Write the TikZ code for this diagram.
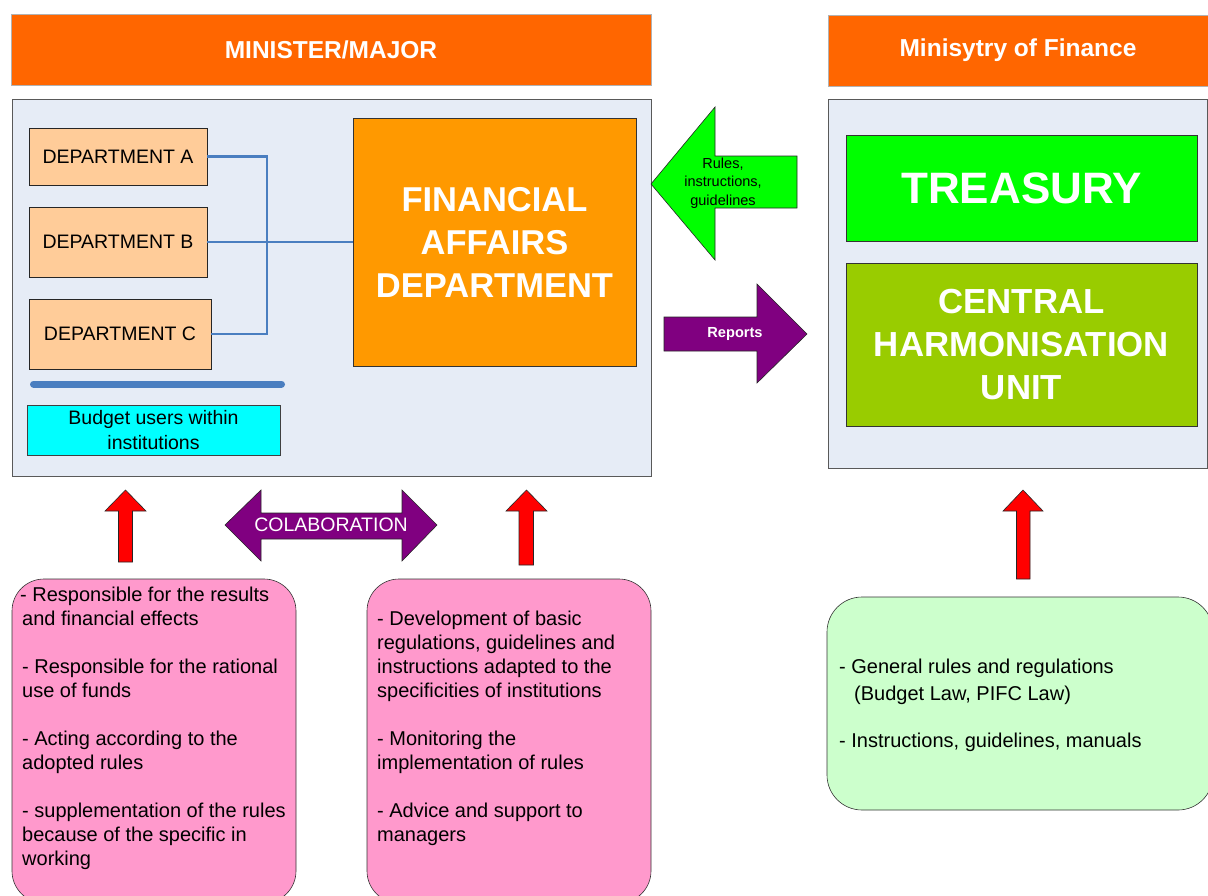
\documentclass[tikz,border=0pt]{standalone}
\usepackage{fontspec}
\setmainfont{Liberation Sans}
\definecolor{hdrorange}{HTML}{FF6600}
\definecolor{panelblue}{HTML}{E6ECF6}
\definecolor{deptpeach}{HTML}{FFCC99}
\definecolor{fadorange}{HTML}{FF9900}
\definecolor{budgetcyan}{HTML}{00FFFF}
\definecolor{treasgreen}{HTML}{00FF00}
\definecolor{chugreen}{HTML}{99CC00}
\definecolor{notepink}{HTML}{FF99CC}
\definecolor{notegreen}{HTML}{CCFFCC}
\definecolor{arrowpurple}{HTML}{800080}
\definecolor{linkblue}{HTML}{4A7EC0}
\newcommand{\fsz}[2]{\fontsize{#1}{#2}\selectfont}
\begin{document}
\begin{tikzpicture}[x=1pt,y=-1pt,
  hdr/.style={fill=hdrorange, draw=gray!60, text=white, inner sep=0,
    font=\bfseries\fsz{24.5}{29}},
  panel/.style={fill=panelblue, draw=gray!70!black, line width=0.8pt, inner sep=0},
  dept/.style={fill=deptpeach, draw=black!85, inner sep=0, font=\fsz{19.5}{23}},
  bigbox/.style={draw=black!80, inner sep=0, text=white, align=center},
  note/.style={draw=black!80, line width=0.6pt, inner sep=0},
  notetext/.style={inner sep=0, align=left, anchor=north west, font=\fsz{20}{24}},
  link/.style={draw=linkblue, line width=2.6pt},
  blockarrow/.style={draw=black!85, line width=0.6pt, line join=miter},
]
\useasboundingbox (0,0) rectangle (1208,895);
\clip (0,0) rectangle (1208,895);

% headers
\node[hdr, minimum width=640pt, minimum height=71pt] (hmin) at (331,49.5) {MINISTER/MAJOR};
\node[hdr, minimum width=380pt, minimum height=71pt] (hfin) at (1018,50.5) {Minisytry of Finance};

% panels
\node[panel, minimum width=639pt, minimum height=377pt] (pleft) at (331.5,287.5) {};
\node[panel, minimum width=379pt, minimum height=369pt] (pright) at (1017.5,283.5) {};

% departments
\node[dept, minimum width=178pt, minimum height=57pt] (dA) at (118,156.5) {DEPARTMENT A};
\node[dept, minimum width=178pt, minimum height=70pt] (dB) at (118,242) {DEPARTMENT B};
\node[dept, minimum width=182pt, minimum height=70pt] (dC) at (120,334) {DEPARTMENT C};

% financial affairs department
\node[bigbox, fill=fadorange, minimum width=283pt, minimum height=248pt,
  font=\bfseries\fsz{34.5}{43}] (fad) at (494.5,242) {FINANCIAL\\AFFAIRS\\DEPARTMENT};

% links from departments to the financial affairs department
\coordinate (bus) at (267,0);
\draw[link] (dA.east) -- (dA.east -| bus) -- (dC.east -| bus) -- (dC.east);
\draw[link] (dB.east) -- (fad.west |- dB.east);

% budget users
\coordinate (u1) at (33.5,384);
\coordinate (u2) at (281.5,384);
\draw[draw=linkblue, line width=7pt, line cap=round] (u1) -- (u2);
\node[draw=black!75, fill=budgetcyan, inner sep=0, minimum width=253pt, minimum height=50pt,
  align=center, font=\fsz{19.5}{24.5}] (budget) at (153.5,430) {Budget users within\\institutions};

% treasury and CHU
\node[bigbox, fill=treasgreen, minimum width=351pt, minimum height=106pt,
  font=\bfseries\fsz{44}{50}] (treas) at (1021.5,188) {TREASURY};
\node[bigbox, fill=chugreen, minimum width=351pt, minimum height=163pt,
  font=\bfseries\fsz{34.8}{43}] (chu) at (1021.5,344.5) {CENTRAL\\HARMONISATION\\UNIT};

% rules arrow (Ministry of Finance -> institution)
\draw[blockarrow, fill=treasgreen] (651,184) -- (715,107) -- (715,156) -- (797,156)
  -- (797,208) -- (715,208) -- (715,260) -- cycle;
\node[inner sep=0, align=center, font=\fsz{14.5}{18.5}] (rules) at (723,183)
  {Rules,\\instructions,\\guidelines};

% reports arrow (institution -> Ministry of Finance)
\draw[blockarrow, fill=arrowpurple] (664,317) -- (757,317) -- (757,284) -- (807,334)
  -- (757,383) -- (757,351) -- (664,351) -- cycle;
\node[inner sep=0, text=white, font=\bfseries\fsz{14.6}{17}] (reports) at (735,334) {Reports};

% collaboration double arrow
\draw[blockarrow, fill=arrowpurple] (225,525) -- (261,490) -- (261,513) -- (402,513)
  -- (402,490) -- (437,525) -- (402,561) -- (402,539) -- (261,539) -- (261,561) -- cycle;
\node[inner sep=0, text=white, font=\fsz{19.5}{23}] (colab) at (331,525) {COLABORATION};

% red up arrows
\draw[blockarrow, fill=red] (118.5,562) -- (118.5,511) -- (105,511) -- (125.5,490)
  -- (146,511) -- (132.5,511) -- (132.5,562) -- cycle;
\draw[blockarrow, fill=red] (519,565) -- (519,511) -- (506,511) -- (526.5,490)
  -- (547,511) -- (533.5,511) -- (533.5,565) -- cycle;
\draw[blockarrow, fill=red] (1016.5,579) -- (1016.5,511) -- (1003,511) -- (1023,490)
  -- (1043,511) -- (1030,511) -- (1030,579) -- cycle;

% note boxes
\draw[note, fill=notepink, rounded corners=32pt] (12,579) rectangle (296,903);
\node[notetext] (n1) at (22,586.5) {\hspace*{-2pt}- Responsible for the results\\
  and financial effects\\[24pt]
  - Responsible for the rational\\
  use of funds\\[24pt]
  - Acting according to the\\
  adopted rules\\[24pt]
  - supplementation of the rules\\
  because of the specific in\\
  working};

\draw[note, fill=notepink, rounded corners=32pt] (367,579) rectangle (651,903);
\node[notetext] (n2) at (377,610.5) {- Development of basic\\
  regulations, guidelines and\\
  instructions adapted to the\\
  specificities of institutions\\[24pt]
  - Monitoring the\\
  implementation of rules\\[24pt]
  - Advice and support to\\
  managers};

\draw[note, fill=notegreen, rounded corners=35pt] (827,597) rectangle (1213,810);
\node[notetext] (n3) at (839,658.5) {- General rules and regulations\\[3pt]
  \hspace*{15pt}(Budget Law, PIFC Law)\\[23pt]
  - Instructions, guidelines, manuals};
\end{tikzpicture}
\end{document}
